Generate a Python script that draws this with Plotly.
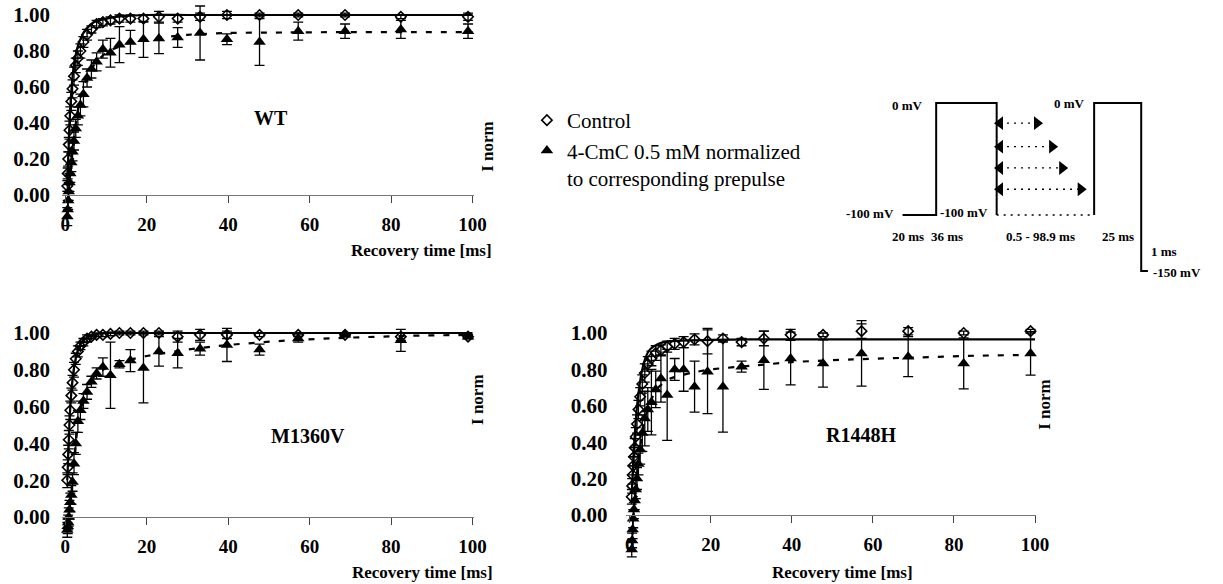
import plotly.graph_objects as go

W, H = 1223, 584
SERIF = "Liberation Serif, Times New Roman, serif"

# ---------------- data ----------------
times = [0.5, 0.6, 0.72, 0.86, 1.04, 1.24, 1.49, 1.79, 2.15, 2.58, 3.1, 3.72, 4.46, 5.35, 6.42,
         7.7, 9.24, 11.1, 13.3, 16.0, 19.2, 23.0, 27.6, 33.1, 39.7, 47.7, 57.2, 68.7, 82.4, 98.9]

wt_ctrl = [0.05, 0.12, 0.20, 0.28, 0.36, 0.44, 0.52, 0.59, 0.66, 0.72, 0.76, 0.80, 0.85, 0.89, 0.92,
           0.95, 0.96, 0.97, 0.98, 0.98, 0.98, 0.99, 0.98, 0.99, 1.00, 1.00, 1.00, 1.00, 0.99, 0.99]
wt_ctrl_err = [0.03, 0.03, 0.04, 0.04, 0.05, 0.05, 0.05, 0.05, 0.05, 0.04, 0.04, 0.04, 0.03, 0.03, 0.02,
               0.02, 0.02, 0.02, 0.02, 0.02, 0.02, 0.03, 0.02, 0.02, 0.02, 0.01, 0.01, 0.01, 0.01, 0.02]
wt_cmc = [-0.12, -0.08, -0.03, 0.02, 0.07, 0.12, 0.18, 0.24, 0.30, 0.37, 0.44, 0.50, 0.56, 0.65, 0.70,
          0.74, 0.81, 0.79, 0.835, 0.85, 0.865, 0.87, 0.875, 0.90, 0.865, 0.85, 0.91, 0.91, 0.92, 0.91]
wt_cmc_err = [0.05, 0.05, 0.05, 0.05, 0.05, 0.05, 0.05, 0.05, 0.05, 0.05, 0.05, 0.06, 0.07, 0.05, 0.05,
              0.05, 0.05, 0.08, 0.10, 0.065, 0.10, 0.085, 0.055, 0.15, 0.03, 0.13, 0.05, 0.04, 0.05, 0.04]

m_ctrl = [0.20, 0.27, 0.34, 0.42, 0.50, 0.58, 0.66, 0.73, 0.80, 0.86, 0.90, 0.93, 0.95, 0.97, 0.98,
          0.99, 0.99, 0.995, 1.00, 1.00, 1.00, 1.00, 0.98, 0.99, 0.99, 0.99, 0.99, 0.99, 0.98, 0.98]
m_ctrl_err = [0.04, 0.04, 0.05, 0.05, 0.05, 0.05, 0.04, 0.04, 0.04, 0.03, 0.03, 0.02, 0.02, 0.02, 0.01,
              0.01, 0.01, 0.01, 0.01, 0.01, 0.01, 0.01, 0.03, 0.03, 0.02, 0.01, 0.01, 0.01, 0.02, 0.01]
m_cmc = [-0.07, -0.05, -0.03, 0.00, 0.04, 0.08, 0.12, 0.19, 0.29, 0.40, 0.52, 0.58, 0.63, 0.68, 0.735,
         0.78, 0.815, 0.77, 0.83, 0.85, 0.81, 0.90, 0.89, 0.915, 0.935, 0.91, 0.97, 0.99, 0.96, 0.98]
m_cmc_err = [0.04, 0.04, 0.04, 0.05, 0.05, 0.05, 0.05, 0.05, 0.06, 0.06, 0.06, 0.05, 0.04, 0.04, 0.03,
             0.03, 0.05, 0.18, 0.02, 0.06, 0.19, 0.08, 0.08, 0.035, 0.09, 0.03, 0.02, 0.01, 0.06, 0.01]

r_ctrl = [0.10, 0.16, 0.22, 0.27, 0.32, 0.37, 0.43, 0.50, 0.58, 0.65, 0.72, 0.78, 0.83, 0.86, 0.89,
          0.905, 0.925, 0.94, 0.95, 0.965, 0.955, 0.97, 0.95, 0.97, 0.99, 0.99, 1.01, 1.01, 1.00, 1.01]
r_ctrl_err = [0.04, 0.04, 0.05, 0.05, 0.05, 0.05, 0.05, 0.05, 0.05, 0.05, 0.05, 0.05, 0.04, 0.04, 0.04,
              0.03, 0.03, 0.03, 0.03, 0.03, 0.07, 0.02, 0.02, 0.04, 0.03, 0.01, 0.04, 0.02, 0.01, 0.01]
r_cmc = [-0.19, -0.14, -0.08, -0.02, 0.03, 0.08, 0.14, 0.20, 0.28, 0.36, 0.45, 0.53, 0.58, 0.62, 0.69,
         0.75, 0.66, 0.80, 0.80, 0.705, 0.787, 0.705, 0.815, 0.85, 0.86, 0.833, 0.888, 0.87, 0.833, 0.888]
r_cmc_err = [0.04, 0.04, 0.05, 0.05, 0.05, 0.05, 0.05, 0.06, 0.06, 0.08, 0.10, 0.15, 0.12, 0.18, 0.10,
             0.13, 0.25, 0.06, 0.12, 0.14, 0.23, 0.25, 0.03, 0.16, 0.145, 0.13, 0.18, 0.11, 0.14, 0.12]

# fitted curves
fit_t = [0.5, 1, 1.5, 2, 3, 4, 5, 7, 10, 15, 20, 30, 40, 55, 70, 85, 100]
wt_fit_ctrl = [0.05, 0.38, 0.58, 0.70, 0.82, 0.88, 0.92, 0.96, 0.98, 0.995, 1.0, 1.0, 1.0, 1.0, 1.0, 1.0, 1.0]
wt_fit_cmc = [-0.12, 0.06, 0.20, 0.30, 0.46, 0.56, 0.63, 0.72, 0.79, 0.84, 0.865, 0.89, 0.90, 0.903, 0.905, 0.905, 0.905]
m_fit_ctrl = [0.20, 0.50, 0.68, 0.79, 0.90, 0.95, 0.97, 0.99, 1.0, 1.0, 1.0, 1.0, 1.0, 1.0, 1.0, 1.0, 1.0]
m_fit_cmc = [-0.06, 0.04, 0.16, 0.28, 0.48, 0.60, 0.67, 0.76, 0.81, 0.85, 0.875, 0.91, 0.935, 0.96, 0.975, 0.985, 0.99]
r_fit_ctrl = [0.12, 0.36, 0.52, 0.64, 0.79, 0.87, 0.91, 0.94, 0.955, 0.96, 0.962, 0.965, 0.965, 0.965, 0.965, 0.965, 0.965]
r_fit_cmc = [-0.19, 0.02, 0.15, 0.26, 0.44, 0.55, 0.62, 0.70, 0.75, 0.78, 0.80, 0.82, 0.84, 0.855, 0.865, 0.875, 0.88]

x_ticks = [0, 20, 40, 60, 80, 100]
y_ticks = [0.0, 0.2, 0.4, 0.6, 0.8, 1.0]

# pulse protocol schematic (drawing units on x, mV on y)
prot_x = [0, 20, 20, 56, 56, None, 114, 114, 142, 142, 146]
prot_mv = [-100, -100, 0, 0, -100, None, -100, 0, 0, -150, -150]
recov_x = [56, 114]
recov_mv = [-100, -100]
arrow_mv = [-18, -39, -58, -77]
arrow_left = [58, 58, 58, 58]
arrow_right = [80, 89, 95, 106]

# ---------------- layout helpers ----------------
def xdom(x0, xs, r):
    return [(x0 + xs * r[0]) / W, (x0 + xs * r[1]) / W]

def ydom(y0, ys, r):
    return [(H - (y0 - ys * r[0])) / H, (H - (y0 - ys * r[1])) / H]

def px(x):
    return x / W

def py(y):
    return (H - y) / H

panels = [
    dict(name="WT", ax="", x0=65, xs=4.12, xr=[-0.8, 100.3], y0=195, ys=180, yr=[-0.26, 1.08],
         ctrl=wt_ctrl, ce=wt_ctrl_err, cmc=wt_cmc, me=wt_cmc_err, fc=wt_fit_ctrl, fm=wt_fit_cmc,
         label=(50.5, 0.43), title_px=(352, 262), inorm_px=(492, 119), stand=11),
    dict(name="M1360V", ax="2", x0=65, xs=4.12, xr=[-0.8, 100.3], y0=517, ys=184, yr=[-0.2, 1.08],
         ctrl=m_ctrl, ce=m_ctrl_err, cmc=m_cmc, me=m_cmc_err, fc=m_fit_ctrl, fm=m_fit_cmc,
         label=(59.7, 0.44), title_px=(353, 584), inorm_px=(482, 427), stand=11),
    dict(name="R1448H", ax="3", x0=636, xs=4.1, xr=[-0.8, 100.3], y0=515, ys=182, yr=[-0.26, 1.1],
         ctrl=r_ctrl, ce=r_ctrl_err, cmc=r_cmc, me=r_cmc_err, fc=r_fit_ctrl, fm=r_fit_cmc,
         label=(57, 0.44), title_px=(925, 584), inorm_px=(1067, 432), stand=18),
]

fig = go.Figure()
annotations = []
bold = dict(family=SERIF, color="black", weight="bold")

for i, p in enumerate(panels):
    xa, ya = "x" + p["ax"], "y" + p["ax"]
    fig.add_trace(go.Scatter(x=fit_t, y=p["fc"], xaxis=xa, yaxis=ya, mode="lines",
                             line=dict(color="black", width=2.2, shape="spline", smoothing=0.6),
                             showlegend=False, hoverinfo="skip"))
    fig.add_trace(go.Scatter(x=fit_t, y=p["fm"], xaxis=xa, yaxis=ya, mode="lines",
                             line=dict(color="black", width=2.2, dash="6px,9px", shape="spline", smoothing=0.6),
                             showlegend=False, hoverinfo="skip"))
    fig.add_trace(go.Scatter(x=times, y=p["ctrl"], xaxis=xa, yaxis=ya, mode="markers",
                             name="Control", showlegend=(i == 0), cliponaxis=False,
                             marker=dict(symbol="diamond-open", size=8, color="black", line=dict(width=1.6)),
                             error_y=dict(type="data", array=p["ce"], color="black", thickness=1.3, width=5)))
    fig.add_trace(go.Scatter(x=times, y=p["cmc"], xaxis=xa, yaxis=ya, mode="markers",
                             name="4-CmC 0.5 mM normalized<br>to corresponding prepulse",
                             showlegend=(i == 0), cliponaxis=False,
                             marker=dict(symbol="triangle-up", size=11, color="black"),
                             error_y=dict(type="data", array=p["me"], color="black", thickness=1.3, width=5)))

    xkey = "xaxis" + p["ax"]
    ykey = "yaxis" + p["ax"]
    fig.update_layout(**{
        xkey: dict(domain=xdom(p["x0"], p["xs"], p["xr"]), range=p["xr"], anchor="free",
                   position=(H - p["y0"]) / H, showline=True, linecolor="#777", linewidth=1,
                   ticks="outside", ticklen=7, tickwidth=1, tickcolor="#444",
                   tickvals=x_ticks, showgrid=False, zeroline=False,
                   tickfont=dict(size=19, **bold), ticklabelstandoff=5),
        ykey: dict(domain=ydom(p["y0"], p["ys"], p["yr"]), range=p["yr"], anchor=xa,
                   showline=False, showgrid=False, zeroline=False, ticks="",
                   tickvals=y_ticks, tickformat=".2f",
                   tickfont=dict(size=21, **bold), ticklabelstandoff=p["stand"]),
    })
    annotations.append(dict(x=p["label"][0], y=p["label"][1], xref=xa, yref=ya, text=p["name"],
                            showarrow=False, font=dict(size=20, **bold)))
    annotations.append(dict(x=px(p["title_px"][0]), y=py(p["title_px"][1]), xref="paper", yref="paper",
                            yanchor="bottom", text="Recovery time [ms]", showarrow=False,
                            font=dict(size=17, **bold)))
    annotations.append(dict(x=px(p["inorm_px"][0]), y=py(p["inorm_px"][1]), xref="paper", yref="paper",
                            text="I norm", textangle=-90, showarrow=False, font=dict(size=17, **bold)))

# ---------------- pulse protocol schematic ----------------
sx0, sxs, sxr = 912, 1.7, [-40, 180]
sy0, sys_, syr = 103, 1.12, [-175, 25]
fig.add_trace(go.Scatter(x=prot_x, y=prot_mv, xaxis="x4", yaxis="y4", mode="lines",
                         line=dict(color="black", width=2), showlegend=False, hoverinfo="skip"))
fig.add_trace(go.Scatter(x=recov_x, y=recov_mv, xaxis="x4", yaxis="y4", mode="lines",
                         line=dict(color="black", width=1.3, dash="2px,5px"), showlegend=False, hoverinfo="skip"))
for mv, xl, xr in zip(arrow_mv, arrow_left, arrow_right):
    fig.add_trace(go.Scatter(x=[xl, xr], y=[mv, mv], xaxis="x4", yaxis="y4", mode="lines+markers",
                             line=dict(color="black", width=1.3, dash="2px,5px"),
                             marker=dict(symbol=["triangle-left", "triangle-right"], size=12, color="black"),
                             showlegend=False, hoverinfo="skip"))
fig.update_layout(
    xaxis4=dict(domain=xdom(sx0, sxs, sxr), range=sxr, visible=False, anchor="y4"),
    yaxis4=dict(domain=ydom(sy0, sys_, syr), range=syr, visible=False, anchor="x4"),
)
schem_labels = [
    (2.9, -1.8, "0 mV"), (99.4, 0, "0 mV"), (-19.4, -98.5, "-100 mV"), (36.5, -97.5, "-100 mV"),
    (3.5, -119.6, "20 ms"), (26.5, -119.6, "36 ms"), (82, -119.6, "0.5 - 98.9 ms"),
    (128.2, -119.6, "25 ms"), (155.6, -133, "1 ms"), (163.5, -151, "-150 mV"),
]
for sx, sv, t in schem_labels:
    annotations.append(dict(x=sx, y=sv, xref="x4", yref="y4", text=t, showarrow=False,
                            font=dict(size=13, **bold)))

fig.update_layout(
    width=W, height=H, margin=dict(l=0, r=0, t=0, b=0),
    paper_bgcolor="white", plot_bgcolor="white",
    annotations=annotations,
    showlegend=True,
    legend=dict(x=px(532), y=py(100), xanchor="left", yanchor="top", valign="top",
                font=dict(family=SERIF, size=21, color="black"), bgcolor="rgba(0,0,0,0)",
                tracegroupgap=0, itemclick=False),
    font=dict(family=SERIF, color="black"),
)

fig.write_html("out.html", config={"displayModeBar": False},
               post_script="document.body.style.margin='0';document.body.style.overflow='hidden';")
